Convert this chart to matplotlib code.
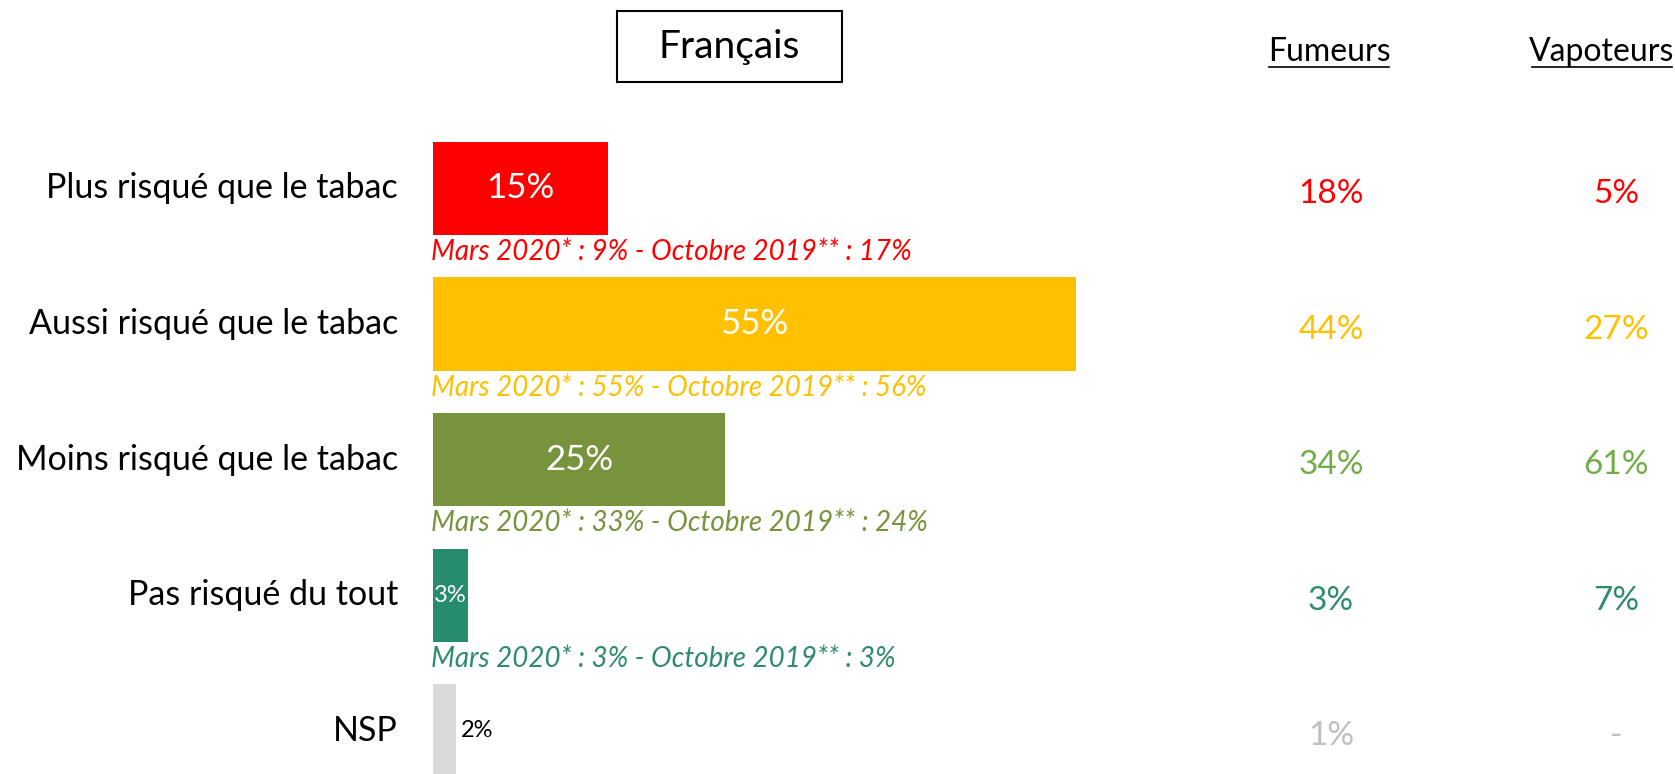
import matplotlib
matplotlib.use("Agg")
import matplotlib.pyplot as plt
from matplotlib.patches import Rectangle

plt.rcParams['font.family'] = ['Lato', 'DejaVu Sans']

categories = ["Plus risqué que le tabac", "Aussi risqué que le tabac",
              "Moins risqué que le tabac", "Pas risqué du tout", "NSP"]
francais = [15, 55, 25, 3, 2]
fumeurs = ["18%", "44%", "34%", "3%", "1%"]
vapoteurs = ["5%", "27%", "61%", "7%", "-"]
historique = ["Mars 2020* : 9% - Octobre 2019** : 17%",
              "Mars 2020* : 55% - Octobre 2019** : 56%",
              "Mars 2020* : 33% - Octobre 2019** : 24%",
              "Mars 2020* : 3% - Octobre 2019** : 3%",
              None]

bar_colors = ["#FF0000", "#FFC000", "#77933C", "#268B6F", "#D9D9D9"]
hist_colors = ["#FF0000", "#FFC000", "#77933C", "#2E8B6E", None]
col_colors = ["#FF0000", "#FFC000", "#70AD47", "#2E8B6E", "#BFBFBF"]

W, H = 1675, 774
fig = plt.figure(figsize=(W / 100, H / 100), dpi=100)
ax = fig.add_axes([0, 0, 1, 1])

# pixel -> data: x = 433 px at 0 %, 11.69 px per %, rows 135.6 px apart from 188.5 px
px0, ppx = 433, 11.69
py0, ppy = 188.5, 135.6
ax.set_xlim(-px0 / ppx, (W - px0) / ppx)
ax.set_ylim((H - py0) / ppy, -py0 / ppy)
ax.axis("off")

def dx(p):
    return (p - px0) / ppx

def dy(p):
    return (p - py0) / ppy

rows = list(range(len(categories)))
ax.barh(rows, francais, height=0.69, color=bar_colors, left=0)

for i in rows:
    ax.text(dx(398), i, categories[i], ha="right", va="center",
            fontsize=24.5, color="#000000")
    v = francais[i]
    if v >= 10:
        ax.text(v / 2, i, f"{v}%", ha="center", va="center",
                fontsize=25, color="white")
    elif i == 3:
        ax.text(v / 2, i, f"{v}%", ha="center", va="center",
                fontsize=17, color="white")
    else:
        ax.text(v + 0.4, i, f"{v}%", ha="left", va="center",
                fontsize=17, color="black")
    if historique[i]:
        ax.text(-0.2, i + 0.47, historique[i], ha="left", va="center",
                fontsize=20, style="italic", color=hist_colors[i])
    ax.text(dx(1331), i + 0.04, fumeurs[i], ha="center", va="center",
            fontsize=24, color=col_colors[i])
    ax.text(dx(1616), i + 0.04, vapoteurs[i], ha="center", va="center",
            fontsize=24, color=col_colors[i])

# title box
ax.add_patch(Rectangle((dx(617), dy(11)), dx(842) - dx(617), dy(82) - dy(11),
                       fill=False, edgecolor="black", linewidth=1.5))
ax.text(dx(729), dy(47), "Français", ha="center", va="center", fontsize=28)

# column headers, underlined
for name, cx, x0, x1 in [("Fumeurs", 1329, 1269, 1389), ("Vapoteurs", 1602, 1532, 1672)]:
    ax.text(dx(cx), dy(52), name, ha="center", va="center", fontsize=23)
    ax.plot([dx(x0), dx(x1)], [dy(67), dy(67)], color="black", linewidth=1.2)

fig.savefig("out.png", dpi=100)
